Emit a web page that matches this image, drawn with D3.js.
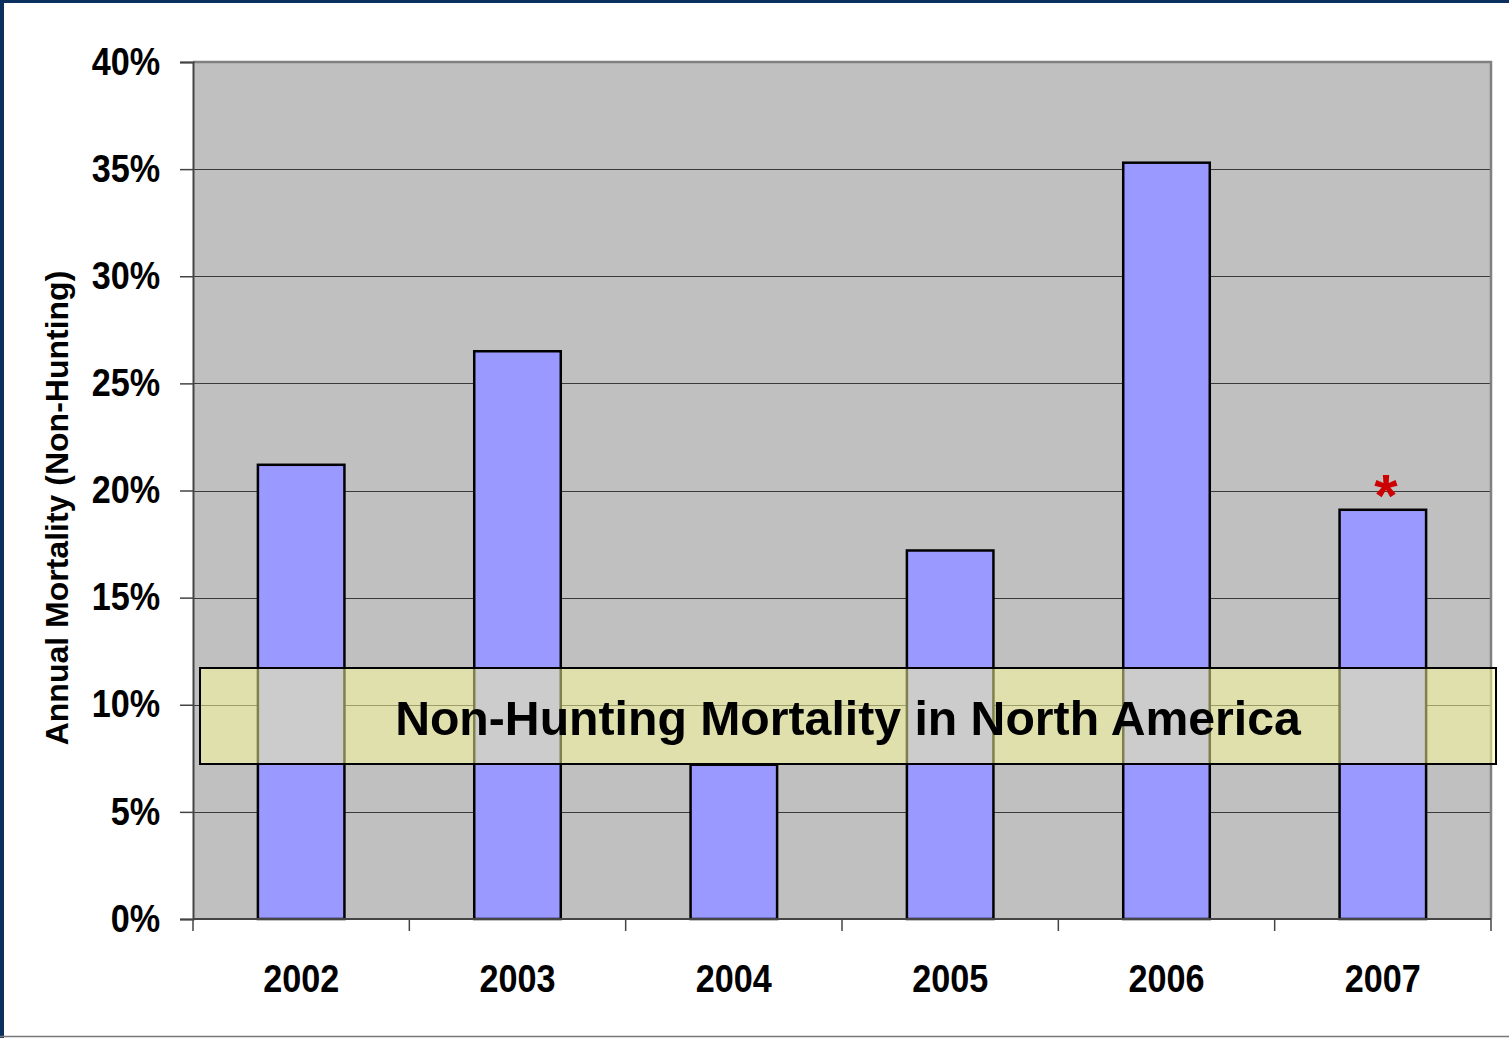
<!DOCTYPE html>
<html>
<head>
<meta charset="utf-8">
<script src="https://cdn.jsdelivr.net/npm/d3@7"></script>
<style>
  html, body { margin: 0; padding: 0; background: #ffffff; }
  svg { display: block; }
  text { font-family: "Liberation Sans", Arial, sans-serif; font-weight: bold; }
</style>
</head>
<body>
<svg id="chart" width="1509" height="1038"></svg>
<script>
// Annual non-hunting mortality by year
const years = ["2002", "2003", "2004", "2005", "2006", "2007"];
const mortality = [21.2, 26.5, 7.2, 17.2, 35.3, 19.1];
const yTicks = [0, 5, 10, 15, 20, 25, 30, 35, 40];
const flaggedYears = ["2007"];
const chartTitle = "Non-Hunting Mortality in North America";
const yTitle = "Annual Mortality (Non-Hunting)";

const svg = d3.select("#chart");
const W = 1509, H = 1038;
const plot = { left: 193, right: 1491, top: 62, bottom: 919 };

// slide frame
svg.append("rect").attr("x", 0).attr("y", 0).attr("width", W).attr("height", H).attr("fill", "#ffffff");
svg.append("rect").attr("x", 0).attr("y", 0).attr("width", W).attr("height", 3).attr("fill", "#0b2f5e");
svg.append("rect").attr("x", 0).attr("y", 0).attr("width", 4).attr("height", H).attr("fill", "#0b2f5e");
svg.append("line").attr("x1", 0).attr("x2", W).attr("y1", 1036.5).attr("y2", 1036.5)
  .attr("stroke", "#777777").attr("stroke-width", 1.5);

const x = d3.scaleBand().domain(years).range([plot.left, plot.right])
  .paddingInner(0.6).paddingOuter(0.3);
const y = d3.scaleLinear().domain([0, 40]).range([plot.bottom, plot.top]);

// plot area
svg.append("rect")
  .attr("x", plot.left).attr("y", plot.top)
  .attr("width", plot.right - plot.left).attr("height", plot.bottom - plot.top)
  .attr("fill", "#c0c0c0");

// gridlines
svg.append("g").selectAll("line").data(yTicks.filter(d => d > 0 && d < 40)).join("line")
  .attr("x1", plot.left).attr("x2", plot.right)
  .attr("y1", d => Math.round(y(d)) + 0.5).attr("y2", d => Math.round(y(d)) + 0.5)
  .attr("stroke", "#3a3a3a").attr("stroke-width", 1.2);

// plot border (top and right)
svg.append("path")
  .attr("d", `M${plot.left},${plot.top} H${plot.right} V${plot.bottom}`)
  .attr("fill", "none").attr("stroke", "#808080").attr("stroke-width", 2.5);

// bars
svg.append("g").selectAll("rect").data(years).join("rect")
  .attr("x", d => x(d))
  .attr("y", (d, i) => y(mortality[i]))
  .attr("width", x.bandwidth())
  .attr("height", (d, i) => y(0) - y(mortality[i]))
  .attr("fill", "#9999ff")
  .attr("stroke", "#000000").attr("stroke-width", 2.5);

// y axis
const yAxis = svg.append("g").attr("transform", `translate(${plot.left},0)`)
  .call(d3.axisLeft(y).tickValues(yTicks).tickFormat(d => d + "%").tickSize(13).tickPadding(20));
yAxis.select(".domain").attr("stroke", "#444444").attr("stroke-width", 2);
yAxis.selectAll(".tick line").attr("stroke", "#444444").attr("stroke-width", 1.5);
yAxis.selectAll(".tick text")
  .attr("fill", "#000000").attr("font-size", 38)
  .attr("font-family", "'Liberation Sans', Arial, sans-serif").attr("font-weight", "bold")
  .attr("transform", "scale(0.9,1)").attr("x", -36.5);

// x axis: ticks at category boundaries
const boundaries = years.map((d, i) => plot.left + i * x.step());
boundaries.push(plot.right);
const xAxisG = svg.append("g");
xAxisG.append("line").attr("x1", plot.left).attr("x2", plot.right)
  .attr("y1", plot.bottom).attr("y2", plot.bottom)
  .attr("stroke", "#444444").attr("stroke-width", 2);
xAxisG.selectAll("line.tick").data(boundaries).join("line").attr("class", "tick")
  .attr("x1", d => d).attr("x2", d => d)
  .attr("y1", plot.bottom).attr("y2", plot.bottom + 12)
  .attr("stroke", "#444444").attr("stroke-width", 1.5);
xAxisG.selectAll("text").data(years).join("text")
  .attr("transform", d => `translate(${x(d) + x.bandwidth() / 2},992) scale(0.9,1)`)
  .attr("text-anchor", "middle").attr("font-size", 38).attr("fill", "#000")
  .text(d => d);

// y axis title
svg.append("text")
  .attr("transform", "translate(68,508) rotate(-90)")
  .attr("text-anchor", "middle").attr("font-size", 32).attr("fill", "#000")
  .text(yTitle);

// flag marker above bar
flaggedYears.forEach(fy => {
  const i = years.indexOf(fy);
  svg.append("text")
    .attr("x", x(fy) + x.bandwidth() / 2 + 3)
    .attr("y", y(mortality[i]) + 6)
    .attr("text-anchor", "middle").attr("font-size", 60).attr("fill", "#cc0000")
    .text("*");
});

// title banner overlaid on the chart
svg.append("rect")
  .attr("x", 200).attr("y", 668).attr("width", 1296).attr("height", 96)
  .attr("fill", "#ffff99").attr("fill-opacity", 0.5)
  .attr("stroke", "#000000").attr("stroke-width", 2);
svg.append("text")
  .attr("x", 848).attr("y", 735)
  .attr("text-anchor", "middle").attr("font-size", 48.2).attr("fill", "#000")
  .text(chartTitle);
</script>
</body>
</html>
